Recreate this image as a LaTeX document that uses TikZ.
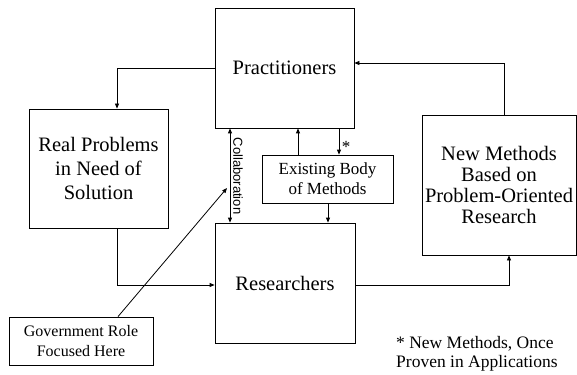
\documentclass[tikz,border=0pt]{standalone}
\usepackage{fontspec}
\setmainfont{Liberation Serif}
\newfontfamily\collabfont{Liberation Sans}
\usetikzlibrary{arrows.meta}
\begin{document}
\begin{tikzpicture}[x=1pt,y=-1pt,
  box/.style={draw,line width=0.8pt,inner sep=0pt,align=center},
  tip/.tip={Triangle[length=5pt,width=4pt]},
  conn/.style={line width=0.8pt,-tip},
  bigtxt/.style={font=\fontsize{20.5}{24}\selectfont}]
\useasboundingbox (0,0) rectangle (577,374);
\node[box,bigtxt,minimum width=139pt,minimum height=120pt] (prac) at (284.5,68) {Practitioners};
\node[box,bigtxt,minimum width=139pt,minimum height=119pt] (real) at (98.5,168.5) {Real Problems\\in Need of\\Solution};
\node[box,bigtxt,minimum width=140pt,minimum height=120pt] (res) at (285,283) {Researchers};
\node[box,minimum width=131pt,minimum height=48pt,font=\fontsize{17}{20}\selectfont] (exist) at (327.5,179) {Existing Body\\of Methods};
\node[box,minimum width=154pt,minimum height=140pt,font=\fontsize{20.5}{21}\selectfont] (newm) at (499,185) {New Methods\\Based on\\Problem-Oriented\\Research};
\node[box,minimum width=144pt,minimum height=48pt,font=\fontsize{16}{20}\selectfont] (gov) at (81,341) {Government Role\\Focused Here};
\node[anchor=west,align=left,inner sep=0pt,font=\fontsize{17.5}{19}\selectfont] (note) at (396,354) {* New Methods, Once\\Proven in Applications};
\coordinate (colx) at (230,0);
\coordinate (upx) at (298,0);
\coordinate (downx) at (339,0);
\coordinate (exdx) at (328,0);
\coordinate (govtip) at (227,188);
\draw[conn] (prac.west) -| ([xshift=18.5pt]real.north);
\draw[conn] ([xshift=5pt]newm.north) |- ([yshift=5pt]prac.east);
\draw[conn] ([xshift=18.5pt]real.south) |- ([yshift=-2pt]res.west);
\draw[conn] ([yshift=-2pt]res.east) -| ([xshift=10pt]newm.south);
\draw[line width=0.8pt,tip-tip] (colx |- prac.south) -- (colx |- res.north);
\node[rotate=-90,inner sep=0pt,font=\collabfont\fontsize{13}{13}\selectfont] (collab) at (238,176) {Collaboration};
\draw[conn] (upx |- exist.north) -- (upx |- prac.south);
\draw[conn] (downx |- prac.south) -- (downx |- exist.north);
\node[inner sep=0pt,font=\fontsize{17}{17}\selectfont] (star) at (346,147) {*};
\draw[conn] (exdx |- exist.south) -- (exdx |- res.north);
\draw[conn] ([xshift=37pt]gov.north) -- (govtip);
\end{tikzpicture}
\end{document}
